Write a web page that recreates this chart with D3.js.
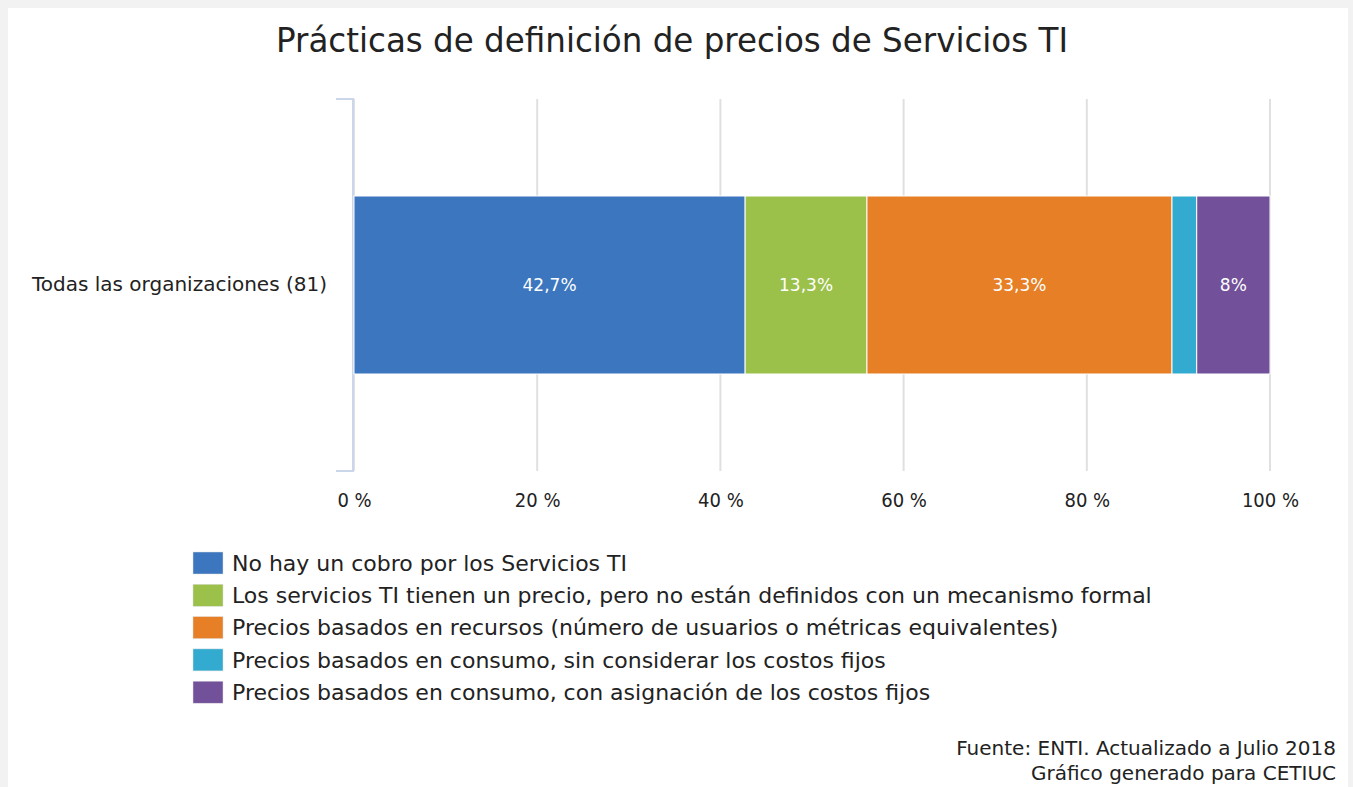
<!DOCTYPE html>
<html>
<head>
<meta charset="utf-8">
<script src="https://cdn.jsdelivr.net/npm/d3@7"></script>
<style>
  body { margin: 0; background: #f2f2f2; }
  svg { display: block; }
  text { font-family: "DejaVu Sans", sans-serif; fill: #222; }
</style>
</head>
<body>
<div id="chart"></div>
<script>
var categories = ["Todas las organizaciones (81)"];
var seriesNames = [
  "No hay un cobro por los Servicios TI",
  "Los servicios TI tienen un precio, pero no están definidos con un mecanismo formal",
  "Precios basados en recursos (número de usuarios o métricas equivalentes)",
  "Precios basados en consumo, sin considerar los costos fijos",
  "Precios basados en consumo, con asignación de los costos fijos"
];
var seriesValues = [42.7, 13.3, 33.3, 2.7, 8];
var valueLabels = ["42,7%", "13,3%", "33,3%", "", "8%"];
var colors = ["#3b76bf", "#9bc14a", "#e67f25", "#33abd0", "#72509a"];
var tickValues = [0, 20, 40, 60, 80, 100];

var svgWidth = 1353;
var svgHeight = 787;

var margin = { top: 99, left: 354, right: 83, bottom: 316 };
var width = svgWidth - margin.left - margin.right;
var height = svgHeight - margin.top - margin.bottom;

var svg = d3.select("#chart")
  .append("svg")
  .attr("width", svgWidth)
  .attr("height", svgHeight);

// white panel
svg.append("rect")
  .attr("x", 8).attr("y", 8)
  .attr("width", 1340).attr("height", svgHeight - 8)
  .attr("fill", "#fff");

svg.append("text")
  .attr("x", 672)
  .attr("y", 52)
  .attr("text-anchor", "middle")
  .attr("font-size", 34)
  .attr("fill", "#111")
  .attr("textLength", 792)
  .attr("lengthAdjust", "spacingAndGlyphs")
  .text("Prácticas de definición de precios de Servicios TI");

var chartGroup = svg.append("g")
  .attr("transform", `translate(${margin.left}, ${margin.top})`);

var xScale = d3.scaleLinear()
  .domain([0, 100])
  .range([0, width]);

var yScale = d3.scaleBand()
  .domain(categories)
  .range([0, height])
  .paddingInner(0)
  .paddingOuter(0.545);

// gridlines
chartGroup.append("g")
  .selectAll("line")
  .data(tickValues)
  .enter()
  .append("line")
  .attr("x1", d => xScale(d))
  .attr("x2", d => xScale(d))
  .attr("y1", 0)
  .attr("y2", height)
  .attr("stroke", "#e0e0e0")
  .attr("stroke-width", 2);

// x axis labels
var bottomAxis = d3.axisBottom(xScale)
  .tickValues(tickValues)
  .tickFormat(d => d + " %")
  .tickSize(0)
  .tickPadding(22);

var xAxis = chartGroup.append("g")
  .attr("transform", `translate(0, ${height})`)
  .call(bottomAxis);
xAxis.select(".domain").remove();
xAxis.selectAll("text")
  .attr("font-size", 20)
  .attr("fill", "#333")
  .style("font-family", "DejaVu Sans Condensed, DejaVu Sans, sans-serif");

// y axis
var leftAxis = d3.axisLeft(yScale)
  .tickSize(0)
  .tickPadding(27);

var yAxis = chartGroup.append("g").call(leftAxis);
yAxis.select(".domain").remove();
yAxis.selectAll("text")
  .attr("font-size", 20)
  .attr("fill", "#222");

chartGroup.append("path")
  .attr("d", `M-18,0H-1V${height}H-18`)
  .attr("fill", "none")
  .attr("stroke", "#ccd6eb")
  .attr("stroke-width", 2);

// stacked bars
var stackData = [];
var cum = 0;
seriesValues.forEach((v, i) => {
  stackData.push({ name: seriesNames[i], x0: cum, x1: cum + v, label: valueLabels[i], color: colors[i] });
  cum += v;
});

var barGroup = chartGroup.append("g");
barGroup.selectAll("rect")
  .data(stackData)
  .enter()
  .append("rect")
  .attr("x", d => xScale(d.x0))
  .attr("y", yScale(categories[0]))
  .attr("width", d => xScale(d.x1) - xScale(d.x0))
  .attr("height", yScale.bandwidth())
  .attr("fill", d => d.color)
  .attr("stroke", "#fff")
  .attr("stroke-width", 1);

barGroup.selectAll("text")
  .data(stackData)
  .enter()
  .append("text")
  .attr("x", d => xScale((d.x0 + d.x1) / 2))
  .attr("y", yScale(categories[0]) + yScale.bandwidth() / 2)
  .attr("dy", "0.35em")
  .attr("text-anchor", "middle")
  .attr("font-size", 17)
  .style("fill", "#fff")
  .text(d => d.label);

// legend
var legend = svg.append("g")
  .attr("transform", "translate(193, 552)");

var legendItems = legend.selectAll("g")
  .data(seriesNames)
  .enter()
  .append("g")
  .attr("transform", (d, i) => `translate(0, ${i * 32.3})`);

legendItems.append("rect")
  .attr("width", 30)
  .attr("height", 22)
  .attr("fill", (d, i) => colors[i])
  .attr("stroke", "#ddd")
  .attr("stroke-width", 0.5);

legendItems.append("text")
  .attr("x", 39)
  .attr("y", 11)
  .attr("dy", "0.35em")
  .attr("font-size", 22)
  .attr("fill", "#111")
  .text(d => d);

// source
var source = svg.append("g");
source.append("text")
  .attr("x", 1336).attr("y", 755)
  .attr("text-anchor", "end")
  .attr("font-size", 20)
  .text("Fuente: ENTI. Actualizado a Julio 2018");
source.append("text")
  .attr("x", 1336).attr("y", 780)
  .attr("text-anchor", "end")
  .attr("font-size", 20)
  .text("Gráfico generado para CETIUC");
</script>
</body>
</html>
